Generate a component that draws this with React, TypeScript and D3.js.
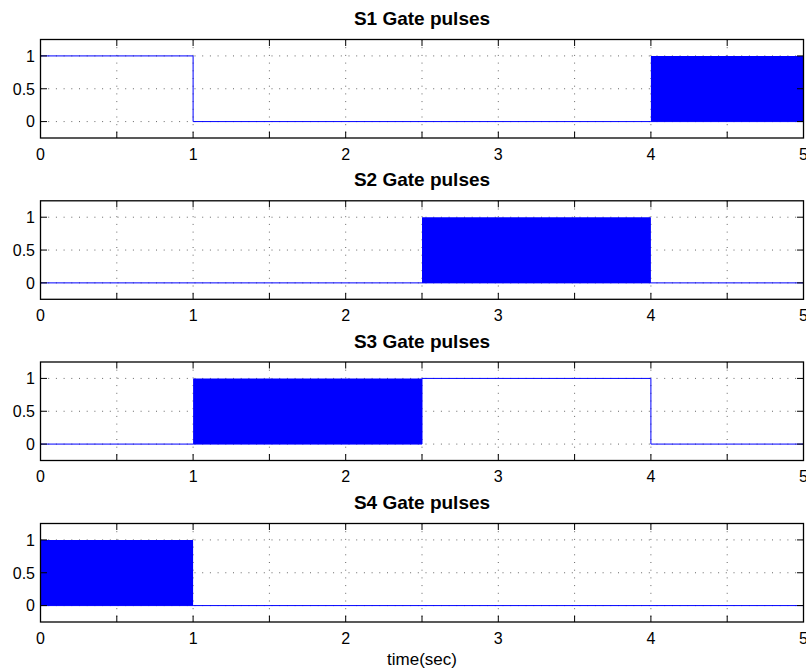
import React from 'react';
import * as d3 from 'd3';

// switching states per interval: "on" = 1, "off" = 0, "pwm" = fast pulsing 0/1
const titles = ['S1 Gate pulses', 'S2 Gate pulses', 'S3 Gate pulses', 'S4 Gate pulses'];
const s1Edges = [0, 1, 4, 5];
const s1Modes = ['on', 'off', 'pwm'];
const s2Edges = [0, 2.5, 4, 5];
const s2Modes = ['off', 'pwm', 'off'];
const s3Edges = [0, 1, 2.5, 4, 5];
const s3Modes = ['off', 'pwm', 'on', 'off'];
const s4Edges = [0, 1, 5];
const s4Modes = ['pwm', 'off'];

const xTicks = [0, 0.5, 1, 1.5, 2, 2.5, 3, 3.5, 4, 4.5, 5];
const xLabels = [0, 1, 2, 3, 4, 5];
const yTicks = [0, 0.5, 1];
const xLabel = 'time(sec)';

const W = 806;
const H = 672;
const left = 40.5;
const right = 803.5;
const plotTops = [39.5, 200.8, 362, 523.5];
const plotH = 98.5;
const blue = '#0000ff';
const font = '"Liberation Sans", Arial, Helvetica, sans-serif';

const signals = [
  { edges: s1Edges, modes: s1Modes },
  { edges: s2Edges, modes: s2Modes },
  { edges: s3Edges, modes: s3Modes },
  { edges: s4Edges, modes: s4Modes },
];

const x = d3.scaleLinear().domain([0, 5]).range([left, right]);

function Panel({ idx }: { idx: number }) {
  const top = plotTops[idx];
  const y = d3.scaleLinear().domain([-0.25, 1.25]).range([top + plotH, top]);
  const { edges, modes } = signals[idx];

  // line through the levels (pwm drawn at 0, hidden under the fill)
  const pts: [number, number][] = [];
  modes.forEach((m, i) => {
    const v = m === 'on' ? 1 : 0;
    pts.push([edges[i], v]);
    pts.push([edges[i + 1], v]);
  });
  const line = d3.line<[number, number]>().x(d => x(d[0])).y(d => y(d[1]));

  const area = d3.area<number>().x(d => x(d)).y0(y(0)).y1(y(1));
  const tick = 6.5;

  return (
    <g>
      <text x={(left + right) / 2} y={top - 14.5} textAnchor="middle" fontFamily={font}
        fontWeight="bold" fontSize={19}>{titles[idx]}</text>
      <rect x={left} y={top} width={right - left} height={plotH} fill="#fff" />
      {/* grid */}
      {xTicks.filter(t => t > 0 && t < 5).map(t => (
        <line key={'gx' + t} x1={x(t)} x2={x(t)} y1={top} y2={top + plotH}
          stroke="#000" strokeOpacity={0.6} strokeWidth={1} strokeDasharray="1,6.7" />
      ))}
      {yTicks.map(t => (
        <line key={'gy' + t} x1={left} x2={right} y1={y(t)} y2={y(t)}
          stroke="#000" strokeOpacity={0.6} strokeWidth={1} strokeDasharray="1,6.7" />
      ))}
      {/* data */}
      {modes.map((m, i) => m === 'pwm' ? (
        <path key={'a' + i} d={area([edges[i], edges[i + 1]]) || ''} fill={blue} />
      ) : null)}
      <path d={line(pts) || ''} fill="none" stroke={blue} strokeWidth={1} />
      {/* ticks */}
      {xTicks.map(t => (
        <g key={'tx' + t}>
          <line x1={x(t)} x2={x(t)} y1={top + plotH} y2={top + plotH - tick} stroke="#000" />
          <line x1={x(t)} x2={x(t)} y1={top} y2={top + tick} stroke="#000" />
        </g>
      ))}
      {yTicks.map(t => (
        <g key={'ty' + t}>
          <line x1={left} x2={left + tick} y1={y(t)} y2={y(t)} stroke="#000" />
          <line x1={right} x2={right - tick} y1={y(t)} y2={y(t)} stroke="#000" />
        </g>
      ))}
      <rect x={left} y={top} width={right - left} height={plotH} fill="none" stroke="#000" strokeWidth={1.3} />
      {xLabels.map(t => (
        <text key={'lx' + t} x={x(t)} y={top + plotH + 21.5} textAnchor="middle"
          fontFamily={font} fontSize={16}>{t}</text>
      ))}
      {yTicks.map(t => (
        <text key={'ly' + t} x={left - 5.5} y={y(t)} dy="0.36em" textAnchor="end"
          fontFamily={font} fontSize={16}>{t}</text>
      ))}
    </g>
  );
}

export default function App() {
  return (
    <svg width={W} height={H} style={{ position: 'absolute', left: 0, top: 0, background: '#fff' }}>
      <rect width={W} height={H} fill="#fff" />
      {titles.map((_, i) => <Panel key={i} idx={i} />)}
      <text x={(left + right) / 2} y={665} textAnchor="middle" fontFamily={font} fontSize={17}>{xLabel}</text>
    </svg>
  );
}
